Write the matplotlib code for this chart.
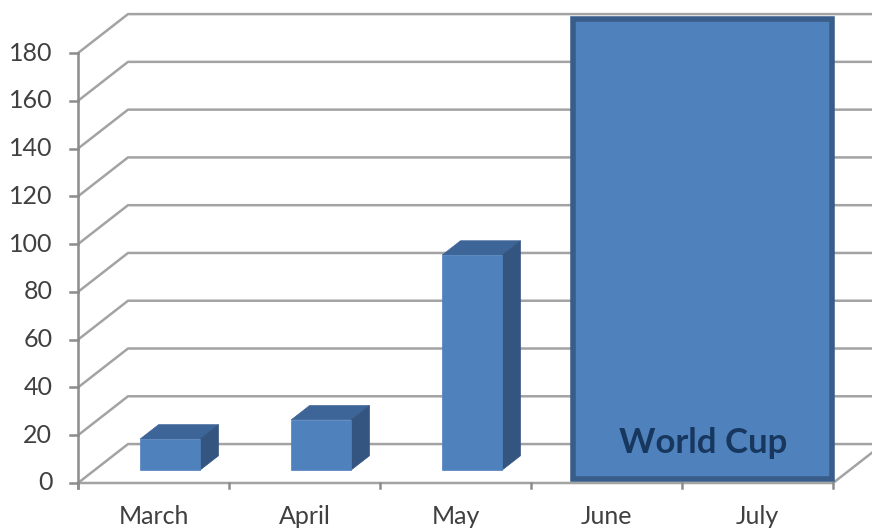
import matplotlib.pyplot as plt
from matplotlib.patches import Polygon, Rectangle

# ── Data ────────────────────────────────────────────────────────────────────
months = ['March', 'April', 'May', 'June', 'July']
visits = [13, 21, 90]          # bars drawn for the first three months
y_ticks = list(range(0, 181, 20))
note_text = 'World Cup'
note_span = ('June', 'July')

# ── 3D look (Excel style) ───────────────────────────────────────────────────
DX, DY = 0.331, 16.3           # depth offset of the back wall (x units, y units)
F1, F2 = 0.333, 0.70           # front / back depth fraction of each bar
BAR_W = 0.397
GRID = '#A3A3A3'
AXIS = '#8C8C8C'
TXT = '#404040'
FRONT, TOP, SIDE = '#4F81BD', '#3E6598', '#34557F'

plt.rcParams['font.family'] = ['Lato', 'DejaVu Sans']

fig = plt.figure(figsize=(8.72, 5.28), dpi=100)
ax = fig.add_axes([0, 0, 1, 1])
ax.set_xlim(-1.0166, 4.758)
ax.set_ylim(-18.84, 202.2)
ax.axis('off')

n = len(months)
x0, x1 = -0.5, n - 0.5

# back wall gridlines (with diagonal on the side wall)
for v in y_ticks:
    ax.plot([x0, x0 + DX, x1 + DX + 1], [v, v + DY, v + DY],
            color=GRID, lw=1.8, solid_capstyle='butt', zorder=1)

# floor front edge and right side
ax.plot([x0, x1, x1 + DX], [0, 0, DY], color=GRID, lw=1.8, zorder=1)

# value axis
ax.plot([x0, x0], [-2, y_ticks[-1]], color=AXIS, lw=1.8, zorder=2)
for v in y_ticks:
    ax.plot([x0 - 0.055, x0], [v, v], color=AXIS, lw=1.8, zorder=2)
    ax.text(x0 - 0.17, v, str(v), ha='right', va='center', fontsize=18, color=TXT)

# category ticks and labels
for k in range(n + 1):
    ax.plot([x0 + k, x0 + k], [0, -2.2], color=AXIS, lw=1.8, zorder=2)
for i, m in enumerate(months):
    ax.text(i, -14, m, ha='center', va='center', fontsize=18, color=TXT)

# 3D columns
for i, v in enumerate(visits):
    l = i - BAR_W / 2 + F1 * DX
    r = i + BAR_W / 2 + F1 * DX
    b = F1 * DY
    t = v + F1 * DY
    ox, oy = (F2 - F1) * DX, (F2 - F1) * DY
    ax.add_patch(Polygon([(l, t), (r, t), (r + ox, t + oy), (l + ox, t + oy)],
                         closed=True, facecolor=TOP, edgecolor=TOP, lw=0.5, zorder=3))
    ax.add_patch(Polygon([(r, b), (r + ox, b + oy), (r + ox, t + oy), (r, t)],
                         closed=True, facecolor=SIDE, edgecolor=SIDE, lw=0.5, zorder=3))
    ax.add_patch(Rectangle((l, b), r - l, t - b, facecolor=FRONT,
                           edgecolor=FRONT, lw=0.5, zorder=4))

# World Cup block covering June and July
i0, i1 = months.index(note_span[0]), months.index(note_span[1])
bl, br = i0 - 0.222, i1 + 0.493
ax.add_patch(Rectangle((bl, 1.7), br - bl, 192.5, facecolor='#4F81BD',
                       edgecolor='#385D8A', lw=4, zorder=5))
ax.text((i0 + i1) / 2 + 0.14, 16.7, note_text, ha='center', va='center',
        fontsize=25, fontweight='bold', color='#17375E', zorder=6)

fig.savefig('out.png', dpi=100)
